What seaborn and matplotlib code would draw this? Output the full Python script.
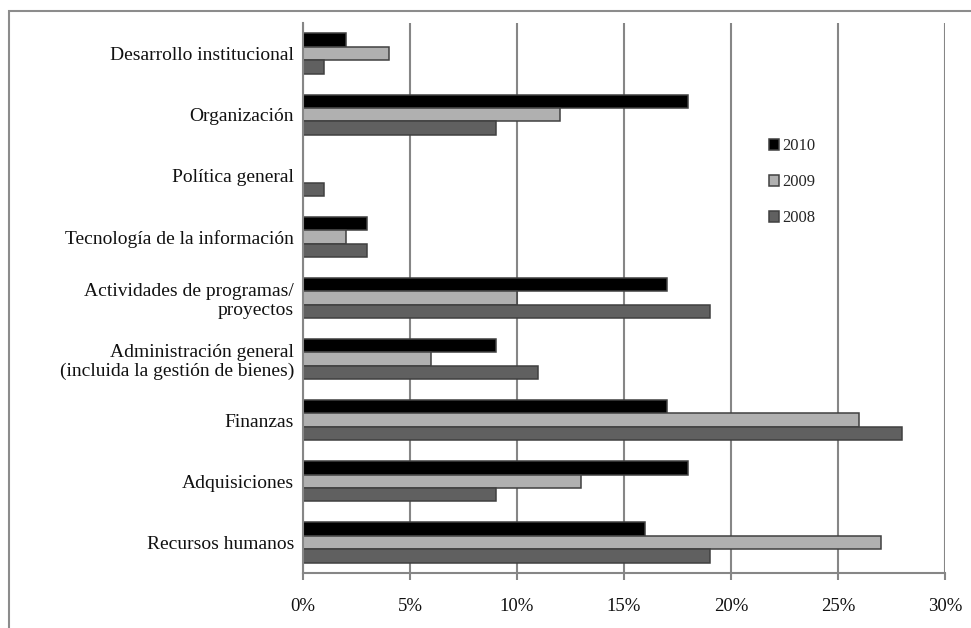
import matplotlib
matplotlib.use("Agg")
import matplotlib.pyplot as plt
from matplotlib.patches import Rectangle
from matplotlib.ticker import FuncFormatter
import seaborn as sns
import pandas as pd

categorias = [
    "Desarrollo institucional",
    "Organización",
    "Política general",
    "Tecnología de la información",
    "Actividades de programas/\nproyectos",
    "Administración general\n(incluida la gestión de bienes)",
    "Finanzas",
    "Adquisiciones",
    "Recursos humanos",
]
valores_2010 = [2, 18, 0, 3, 17, 9, 17, 18, 16]
valores_2009 = [4, 12, 0, 2, 10, 6, 26, 13, 27]
valores_2008 = [1, 9, 1, 3, 19, 11, 28, 9, 19]
anios = ["2010", "2009", "2008"]
colores = ["#000000", "#b0b0b0", "#606060"]
xticks = [0, 5, 10, 15, 20, 25, 30]

series = {"2010": valores_2010, "2009": valores_2009, "2008": valores_2008}
df = pd.DataFrame(
    [(c, a, v) for a in anios for c, v in zip(categorias, series[a])],
    columns=["categoria", "anio", "valor"],
)

sns.set_theme(style="white")
plt.rcParams["font.family"] = ["Liberation Serif", "DejaVu Serif"]

fig = plt.figure(figsize=(9.71, 6.28), dpi=100)
ax = fig.add_axes([303 / 971, 1 - 573 / 628, 642 / 971, 550 / 628])

grid_col = "#868686"
sns.barplot(
    data=df, y="categoria", x="valor", hue="anio", order=categorias,
    hue_order=anios, palette=colores, orient="h", width=0.66,
    edgecolor="#404040", linewidth=1.1, saturation=1, ax=ax, zorder=3,
)

ax.set_xlim(0, 30)
ax.set_xticks(xticks)
ax.xaxis.set_major_formatter(FuncFormatter(lambda v, p: f"{v:.0f}%"))
ax.set_xlabel("")
ax.set_ylabel("")
ax.grid(axis="x", color=grid_col, linewidth=1.5, zorder=0)
ax.grid(axis="y", visible=False)
for side in ["top", "right"]:
    ax.spines[side].set_visible(False)
for side in ["left", "bottom"]:
    ax.spines[side].set_color(grid_col)
    ax.spines[side].set_linewidth(1.5)
    ax.spines[side].set_zorder(4)
ax.tick_params(axis="x", bottom=True, length=5, width=1.5, color=grid_col,
               labelsize=13.5, pad=13, labelcolor="#111111")
ax.tick_params(axis="y", left=False, length=0, labelsize=14, pad=6.5,
               labelcolor="#111111")
for lbl in ax.get_yticklabels():
    lbl.set_linespacing(1.13)

handles, labels = ax.get_legend_handles_labels()
ax.legend(
    handles, labels, loc="upper left", bbox_to_anchor=(0.703, 0.818),
    frameon=False, fontsize=12, handlelength=0.6, handleheight=0.6,
    handletextpad=0.2, labelspacing=1.2,
)

fig.patches.append(Rectangle((9 / 971, -0.1), 1.2, 0.1 + 1 - 11 / 628,
                             transform=fig.transFigure, fill=False,
                             edgecolor="#8c8c8c", linewidth=1.5))

fig.savefig("out.png", dpi=100, facecolor="white")
